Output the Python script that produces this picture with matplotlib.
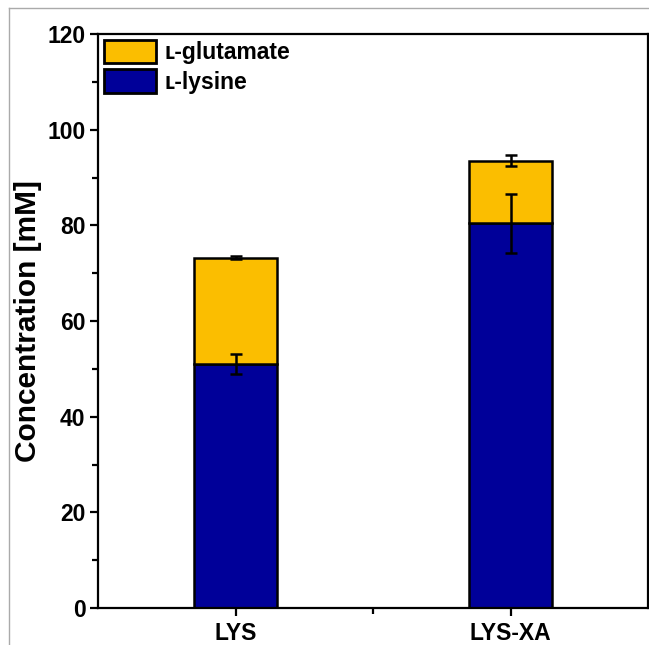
import matplotlib
matplotlib.use("Agg")
import matplotlib.pyplot as plt
from matplotlib.lines import Line2D
from matplotlib.ticker import MultipleLocator, FixedLocator

categories = ["LYS", "LYS-XA"]
lysine = [51.0, 80.4]
lysine_err = [2.0, 6.2]
glutamate = [22.2, 13.1]
glutamate_err = [0.3, 1.2]
series_labels = ["\u029f-glutamate", "\u029f-lysine"]

plt.rcParams['font.family'] = ['Liberation Sans', 'DejaVu Sans']
plt.rcParams['font.weight'] = 'bold'

W, H = 649, 645
fig = plt.figure(figsize=(W / 100, H / 100), dpi=100)
ax = fig.add_axes([98 / W, 1 - 608 / H, (648 - 98) / W, (608 - 34) / H])

x = [1, 2]
width = 0.30
blue = "#000099"
yellow = "#FBBE00"
FS = 16.5

b1 = ax.bar(x, lysine, width, color=blue, edgecolor="black", linewidth=1.8, zorder=2)
tops = [l + g for l, g in zip(lysine, glutamate)]
b2 = ax.bar(x, glutamate, width, bottom=lysine, color=yellow, edgecolor="black",
            linewidth=1.8, zorder=2)
ax.errorbar(x, lysine, yerr=lysine_err, fmt="none", ecolor="black", elinewidth=1.8,
            capsize=4, capthick=1.8, zorder=3)
ax.errorbar(x, tops, yerr=glutamate_err, fmt="none", ecolor="black", elinewidth=1.8,
            capsize=4, capthick=1.8, zorder=3)

ax.set_xlim(0.5, 2.5)
ax.set_ylim(0, 120)
ax.set_xticks(x)
ax.set_xticklabels(categories, fontsize=FS, fontweight="bold")
ax.xaxis.set_minor_locator(FixedLocator([1.5]))
ax.yaxis.set_major_locator(MultipleLocator(20))
ax.yaxis.set_minor_locator(MultipleLocator(10))
for lbl in ax.get_yticklabels():
    lbl.set_fontsize(FS)
    lbl.set_fontweight("bold")
ax.tick_params(which="major", direction="out", length=6, width=1.6, pad=3)
ax.tick_params(which="minor", direction="out", length=4, width=1.6)
ax.tick_params(axis="x", which="major", pad=4)
for s in ax.spines.values():
    s.set_linewidth(1.6)

ax.set_ylabel("Concentration [mM]", fontsize=21.5, fontweight="bold", labelpad=4)

leg = ax.legend([b2, b1], series_labels, loc="upper left", frameon=False,
                prop={"weight": "bold", "size": FS},
                handlelength=2.3, handleheight=1.2, labelspacing=0.22,
                handletextpad=0.35, borderaxespad=0.25, borderpad=0.0)
for p in leg.get_patches():
    p.set_linewidth(2.0)

# outer light-gray frame
fig.add_artist(Line2D([9 / W, 1], [1 - 8 / H, 1 - 8 / H], color="#aaaaaa", lw=1.0,
                      transform=fig.transFigure))
fig.add_artist(Line2D([9 / W, 9 / W], [0, 1 - 8 / H], color="#aaaaaa", lw=1.0,
                      transform=fig.transFigure))

fig.savefig("out.png", dpi=100)
